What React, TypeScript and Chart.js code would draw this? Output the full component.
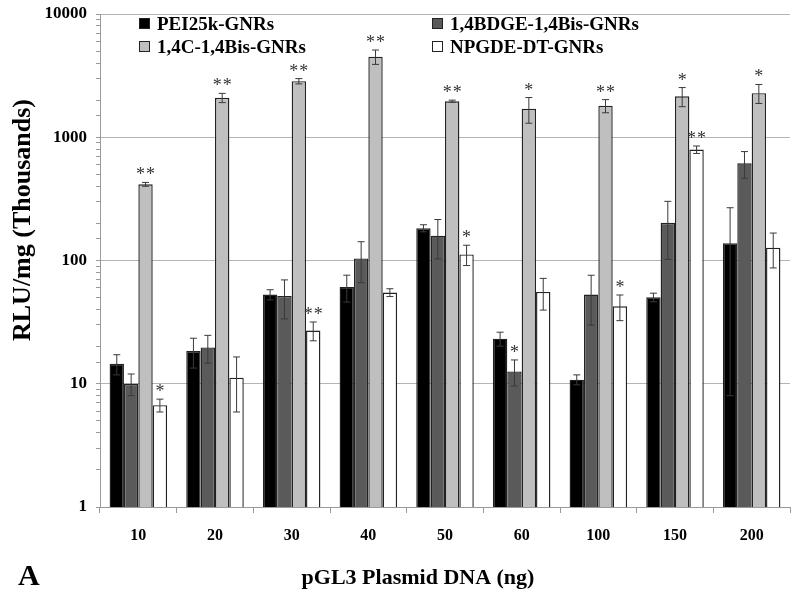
import React, { useEffect, useRef } from 'react';
import { Chart, registerables } from 'chart.js';
Chart.register(...registerables);

const FONT = '"Liberation Serif", "Times New Roman", Times, serif';

const categories = ['10', '20', '30', '40', '50', '60', '100', '150', '200'];
const seriesNames = ['PEI25k-GNRs', '1,4BDGE-1,4Bis-GNRs', '1,4C-1,4Bis-GNRs', 'NPGDE-DT-GNRs'];
const seriesColors = ['#000000', '#5a5a5a', '#bfbfbf', '#ffffff'];

const pei = [14.5, 18.4, 52.9, 61, 183, 23.2, 10.8, 50.3, 138];
const peiErr = [2.7, 5, 5, 15, 12, 3, 1, 4, 130];
const bdge = [10, 19.7, 51.6, 104, 159, 12.6, 52.9, 202, 615];
const bdgeErr = [2, 5, 18, 38, 56, 3, 23, 100, 150];
const c14 = [415, 2090, 2850, 4500, 1960, 1700, 1800, 2150, 2280];
const c14Err = [15, 180, 140, 600, 40, 400, 220, 380, 400];
const npg = [6.7, 11.2, 27, 55, 112, 55.6, 42.5, 794, 127];
const npgErr = [0.8, 5.3, 4.7, 4, 21, 16, 10, 55, 40];

const peiStars = ['', '', '', '', '', '', '', '', ''];
const bdgeStars = ['', '', '', '', '', '*', '', '', ''];
const c14Stars = ['**', '**', '**', '**', '**', '*', '**', '*', '*'];
const npgStars = ['*', '', '**', '', '*', '', '*', '**', ''];

const yMajorTicks = [1, 10, 100, 1000, 10000];

const yTitle = 'RLU/mg (Thousands)';
const xTitle = 'pGL3 Plasmid DNA (ng)';
const panelLabel = 'A';

function isMajor(v: number) {
  return yMajorTicks.some((m) => Math.abs(m - v) < 1e-9);
}

export default function App() {
  const ref = useRef<HTMLCanvasElement>(null);

  useEffect(() => {
    const canvas = ref.current;
    if (!canvas) return;
    const values = [pei, bdge, c14, npg];
    const errs = [peiErr, bdgeErr, c14Err, npgErr];
    const stars = [peiStars, bdgeStars, c14Stars, npgStars];

    const errorPlugin = {
      id: 'errorBars',
      afterDatasetsDraw(chart: any) {
        const ctx = chart.ctx;
        const y = chart.scales.y;
        ctx.save();
        chart.data.datasets.forEach((ds: any, i: number) => {
          const meta = chart.getDatasetMeta(i);
          meta.data.forEach((bar: any, j: number) => {
            const v = values[i][j];
            const e = errs[i][j];
            const top = y.getPixelForValue(v + e);
            const bot = y.getPixelForValue(Math.max(v - e, 1));
            const x = bar.x;
            ctx.strokeStyle = '#3a3a3a';
            ctx.lineWidth = 1;
            ctx.beginPath();
            ctx.moveTo(x, top);
            ctx.lineTo(x, bot);
            ctx.moveTo(x - 3.5, top);
            ctx.lineTo(x + 3.5, top);
            ctx.moveTo(x - 3.5, bot);
            ctx.lineTo(x + 3.5, bot);
            ctx.stroke();
            const s = stars[i][j];
            if (s) {
              ctx.fillStyle = '#333';
              ctx.font = `18px ${FONT}`;
              ctx.textAlign = 'center';
              ctx.textBaseline = 'alphabetic';
              const n = s.length;
              for (let k = 0; k < n; k++) {
                const dx = (k - (n - 1) / 2) * 10;
                ctx.fillText('*', x + dx, top - 2);
              }
            }
          });
        });
        ctx.restore();
      },
    };

    const decorPlugin = {
      id: 'decor',
      afterDraw(chart: any) {
        const ctx = chart.ctx;
        const area = chart.chartArea;
        ctx.save();
        // legend
        ctx.font = `bold 19px ${FONT}`;
        ctx.textAlign = 'left';
        ctx.textBaseline = 'alphabetic';
        const colX = [area.left + 39, area.left + 332];
        const rowY = [area.top + 4, area.top + 27];
        const order = [0, 2, 1, 3];
        order.forEach((si, k) => {
          const col = k < 2 ? 0 : 1;
          const row = k % 2;
          const bx = colX[col];
          const by = rowY[row];
          ctx.fillStyle = seriesColors[si];
          ctx.fillRect(bx, by, 11, 11);
          ctx.strokeStyle = '#222';
          ctx.lineWidth = 1;
          ctx.strokeRect(bx + 0.5, by + 0.5, 10, 10);
          ctx.fillStyle = '#000';
          ctx.fillText(seriesNames[si], bx + 18, by + 12);
        });
        // axis titles
        ctx.fillStyle = '#000';
        ctx.font = `bold 22px ${FONT}`;
        ctx.textAlign = 'center';
        ctx.fillText(xTitle, 418, 584);
        ctx.save();
        ctx.translate(23, 220);
        ctx.rotate(-Math.PI / 2);
        ctx.font = `bold 26px ${FONT}`;
        ctx.textBaseline = 'middle';
        ctx.fillText(yTitle, 0, 0);
        ctx.restore();
        ctx.font = `bold 30px ${FONT}`;
        ctx.textAlign = 'left';
        ctx.textBaseline = 'alphabetic';
        ctx.fillText(panelLabel, 18, 585);
        ctx.restore();
      },
    };

    const chart = new Chart(canvas, {
      type: 'bar',
      data: {
        labels: categories,
        datasets: seriesNames.map((name, i) => ({
          label: name,
          data: values[i],
          backgroundColor: seriesColors[i],
          borderColor: '#222222',
          borderWidth: 1.4,
          categoryPercentage: 0.75,
          barPercentage: 1.0,
        })),
      },
      options: {
        responsive: false,
        animation: false,
        layout: { padding: { top: 14, right: 10, left: 0, bottom: 0 } },
        plugins: {
          legend: { display: false },
          tooltip: { enabled: false },
        },
        scales: {
          x: {
            grid: {
              drawOnChartArea: false,
              drawTicks: true,
              tickLength: 6,
              tickColor: '#9a9a9a',
              offset: true,
            },
            border: { color: '#9a9a9a' },
            ticks: {
              color: '#000',
              font: { family: FONT, size: 16, weight: 'bold' },
              padding: 13,
              maxRotation: 0,
            },
            afterFit: (s: any) => {
              s.height = 92;
            },
          },
          y: {
            type: 'logarithmic',
            min: 1,
            max: 10000,
            grid: {
              color: (c: any) => (c.tick && isMajor(c.tick.value) ? '#b4b4b4' : 'rgba(0,0,0,0)'),
              tickColor: '#9a9a9a',
              tickLength: 4,
              drawTicks: true,
            },
            border: { color: '#9a9a9a' },
            ticks: {
              autoSkip: false,
              color: '#000',
              font: { family: FONT, size: 17, weight: 'bold' },
              padding: 9,
              callback: (v: any) => (isMajor(Number(v)) ? String(Number(v)) : ''),
            },
            afterFit: (s: any) => {
              s.width = 100;
              s.paddingTop = 0;
              s.paddingBottom = 0;
            },
          },
        },
      },
      plugins: [errorPlugin, decorPlugin],
    } as any);

    return () => chart.destroy();
  }, []);

  return (
    <div style={{ position: 'absolute', left: 0, top: 0, width: 800, height: 599, background: '#fff' }}>
      <canvas ref={ref} width={800} height={599} style={{ display: 'block' }} />
    </div>
  );
}
